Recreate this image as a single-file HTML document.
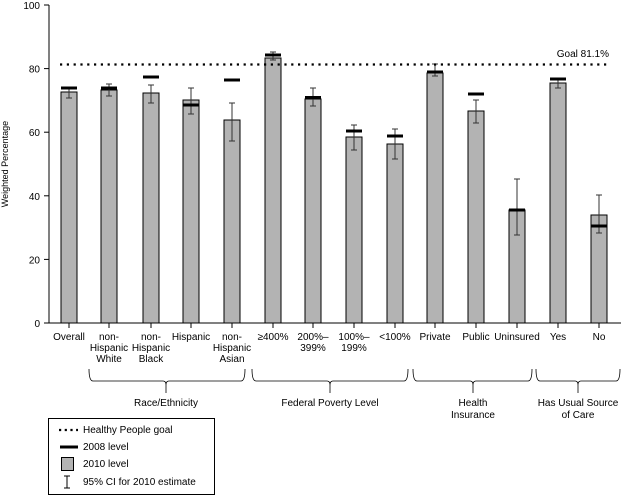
<!DOCTYPE html>
<html><head><style>
html,body{margin:0;padding:0;background:#fff;overflow:hidden}
text{font-family:"Liberation Sans","DejaVu Sans",sans-serif;font-size:10px;fill:#000}
</style></head><body>
<svg width="621" height="496" xmlns="http://www.w3.org/2000/svg">
<rect width="621" height="496" fill="#fff"/>
<line x1="49" y1="5" x2="49" y2="323" stroke="#000"/>
<line x1="49" y1="323" x2="621" y2="323" stroke="#000"/>
<g stroke="#000">
<line x1="44" y1="5" x2="49" y2="5"/><line x1="44" y1="68.6" x2="49" y2="68.6"/><line x1="44" y1="132.2" x2="49" y2="132.2"/><line x1="44" y1="195.8" x2="49" y2="195.8"/><line x1="44" y1="259.4" x2="49" y2="259.4"/><line x1="44" y1="323" x2="49" y2="323"/>
</g>
<g text-anchor="end">
<text x="40" y="9">100</text><text x="40" y="72.6">80</text><text x="40" y="136.2">60</text><text x="40" y="199.8">40</text><text x="40" y="263.4">20</text><text x="40" y="327">0</text>
</g>
<text transform="translate(8,164) rotate(-90)" text-anchor="middle" style="font-size:9px">Weighted Percentage</text>

<g stroke="#000">
<rect x="61" y="92" width="16" height="231" fill="#b3b3b3"/>
<rect x="101" y="90" width="16" height="233" fill="#b3b3b3"/>
<rect x="143" y="93" width="16" height="230" fill="#b3b3b3"/>
<rect x="183" y="100" width="16" height="223" fill="#b3b3b3"/>
<rect x="224" y="120" width="16" height="203" fill="#b3b3b3"/>
<rect x="265" y="58" width="16" height="265" fill="#b3b3b3"/>
<rect x="305" y="99" width="16" height="224" fill="#b3b3b3"/>
<rect x="346" y="137" width="16" height="186" fill="#b3b3b3"/>
<rect x="387" y="144" width="16" height="179" fill="#b3b3b3"/>
<rect x="427" y="73" width="16" height="250" fill="#b3b3b3"/>
<rect x="468" y="111" width="16" height="212" fill="#b3b3b3"/>
<rect x="509" y="210" width="16" height="113" fill="#b3b3b3"/>
<rect x="550" y="83" width="16" height="240" fill="#b3b3b3"/>
<rect x="591" y="215" width="16" height="108" fill="#b3b3b3"/>
</g>
<g stroke="#333" fill="none">
<path d="M69 88V98M66 88H72M66 98H72"/>
<path d="M109 84V96M106 84H112M106 96H112"/>
<path d="M151 85V103M148 85H154M148 103H154"/>
<path d="M191 88V114M188 88H194M188 114H194"/>
<path d="M232 103V141M229 103H235M229 141H235"/>
<path d="M273 52V60M270 52H276M270 60H276"/>
<path d="M313 88V106M310 88H316M310 106H316"/>
<path d="M354 125V150M351 125H357M351 150H357"/>
<path d="M395 129V159M392 129H398M392 159H398"/>
<path d="M435 64V76M432 64H438M432 76H438"/>
<path d="M476 100V123M473 100H479M473 123H479"/>
<path d="M517 179V235M514 179H520M514 235H520"/>
<path d="M558 79V88M555 79H561M555 88H561"/>
<path d="M599 195V233M596 195H602M596 233H602"/>
</g>
<g fill="#000">
<rect x="61" y="86.5" width="16" height="3"/>
<rect x="101" y="86.5" width="16" height="3"/>
<rect x="143" y="75.5" width="16" height="3"/>
<rect x="183" y="103.5" width="16" height="3"/>
<rect x="224" y="78.5" width="16" height="3"/>
<rect x="265" y="53.5" width="16" height="3"/>
<rect x="305" y="96" width="16" height="3"/>
<rect x="346" y="129.5" width="16" height="3"/>
<rect x="387" y="134.5" width="16" height="3"/>
<rect x="427" y="70.5" width="16" height="3"/>
<rect x="468" y="92.5" width="16" height="3"/>
<rect x="509" y="208.5" width="16" height="3"/>
<rect x="550" y="77.5" width="16" height="3"/>
<rect x="591" y="224.5" width="16" height="3"/>
</g>
<g stroke="#000">
<path d="M69 323v5M109 323v5M151 323v5M191 323v5M232 323v5M273 323v5M313 323v5M354 323v5M395 323v5M435 323v5M476 323v5M517 323v5M558 323v5M599 323v5"/>
</g>
<g text-anchor="middle">
<text x="69" y="340">Overall</text>
<text x="109" y="340">non-</text><text x="109" y="351">Hispanic</text><text x="109" y="362">White</text>
<text x="151" y="340">non-</text><text x="151" y="351">Hispanic</text><text x="151" y="362">Black</text>
<text x="191" y="340">Hispanic</text>
<text x="232" y="340">non-</text><text x="232" y="351">Hispanic</text><text x="232" y="362">Asian</text>
<text x="273" y="340">≥400%</text>
<text x="313" y="340">200%–</text><text x="313" y="351">399%</text>
<text x="354" y="340">100%–</text><text x="354" y="351">199%</text>
<text x="395" y="340">&lt;100%</text>
<text x="435" y="340">Private</text>
<text x="476" y="340">Public</text>
<text x="517" y="340">Uninsured</text>
<text x="558" y="340">Yes</text>
<text x="599" y="340">No</text>
</g>
<g fill="none" stroke="#000" stroke-width="0.8">
<path d="M89 369Q89 381 93 381L163 381Q166 381 166 385L166 393M166 385Q166 381 169 381L241 381Q245 381 245 369"/>
<path d="M252 369Q252 381 256 381L327 381Q330 381 330 385L330 393M330 385Q330 381 333 381L404 381Q408 381 408 369"/>
<path d="M413 369Q413 381 417 381L470 381Q473 381 473 385L473 393M473 385Q473 381 476 381L528 381Q532 381 532 369"/>
<path d="M536 369Q536 381 540 381L575 381Q578 381 578 385L578 393M578 385Q578 381 581 381L616 381Q620 381 620 369"/>
</g>
<g text-anchor="middle">
<text x="166" y="406">Race/Ethnicity</text>
<text x="330" y="406">Federal Poverty Level</text>
<text x="473" y="406">Health</text><text x="473" y="418">Insurance</text>
<text x="578" y="406">Has Usual Source</text><text x="578" y="418">of Care</text>
</g>
<line x1="60" y1="64.5" x2="609" y2="64.5" stroke="#000" stroke-width="2.2" stroke-dasharray="2.2,4.6"/>
<text x="609" y="57" text-anchor="end">Goal 81.1%</text>

<rect x="48.5" y="418.5" width="166" height="76" fill="none" stroke="#000"/>
<line x1="59" y1="430" x2="78" y2="430" stroke="#000" stroke-width="2.2" stroke-dasharray="2.2,3.5"/>
<text x="83" y="433">Healthy People goal</text>
<rect x="60" y="445.5" width="18" height="3" fill="#000"/>
<text x="83" y="450">2008 level</text>
<rect x="61.5" y="457.5" width="12" height="13" fill="#b3b3b3" stroke="#000"/>
<text x="83" y="467">2010 level</text>
<path d="M67 476V488M64 476H70M64 488H70" stroke="#000" fill="none"/>
<text x="83" y="485">95% CI for 2010 estimate</text>
</svg>
</body></html>
